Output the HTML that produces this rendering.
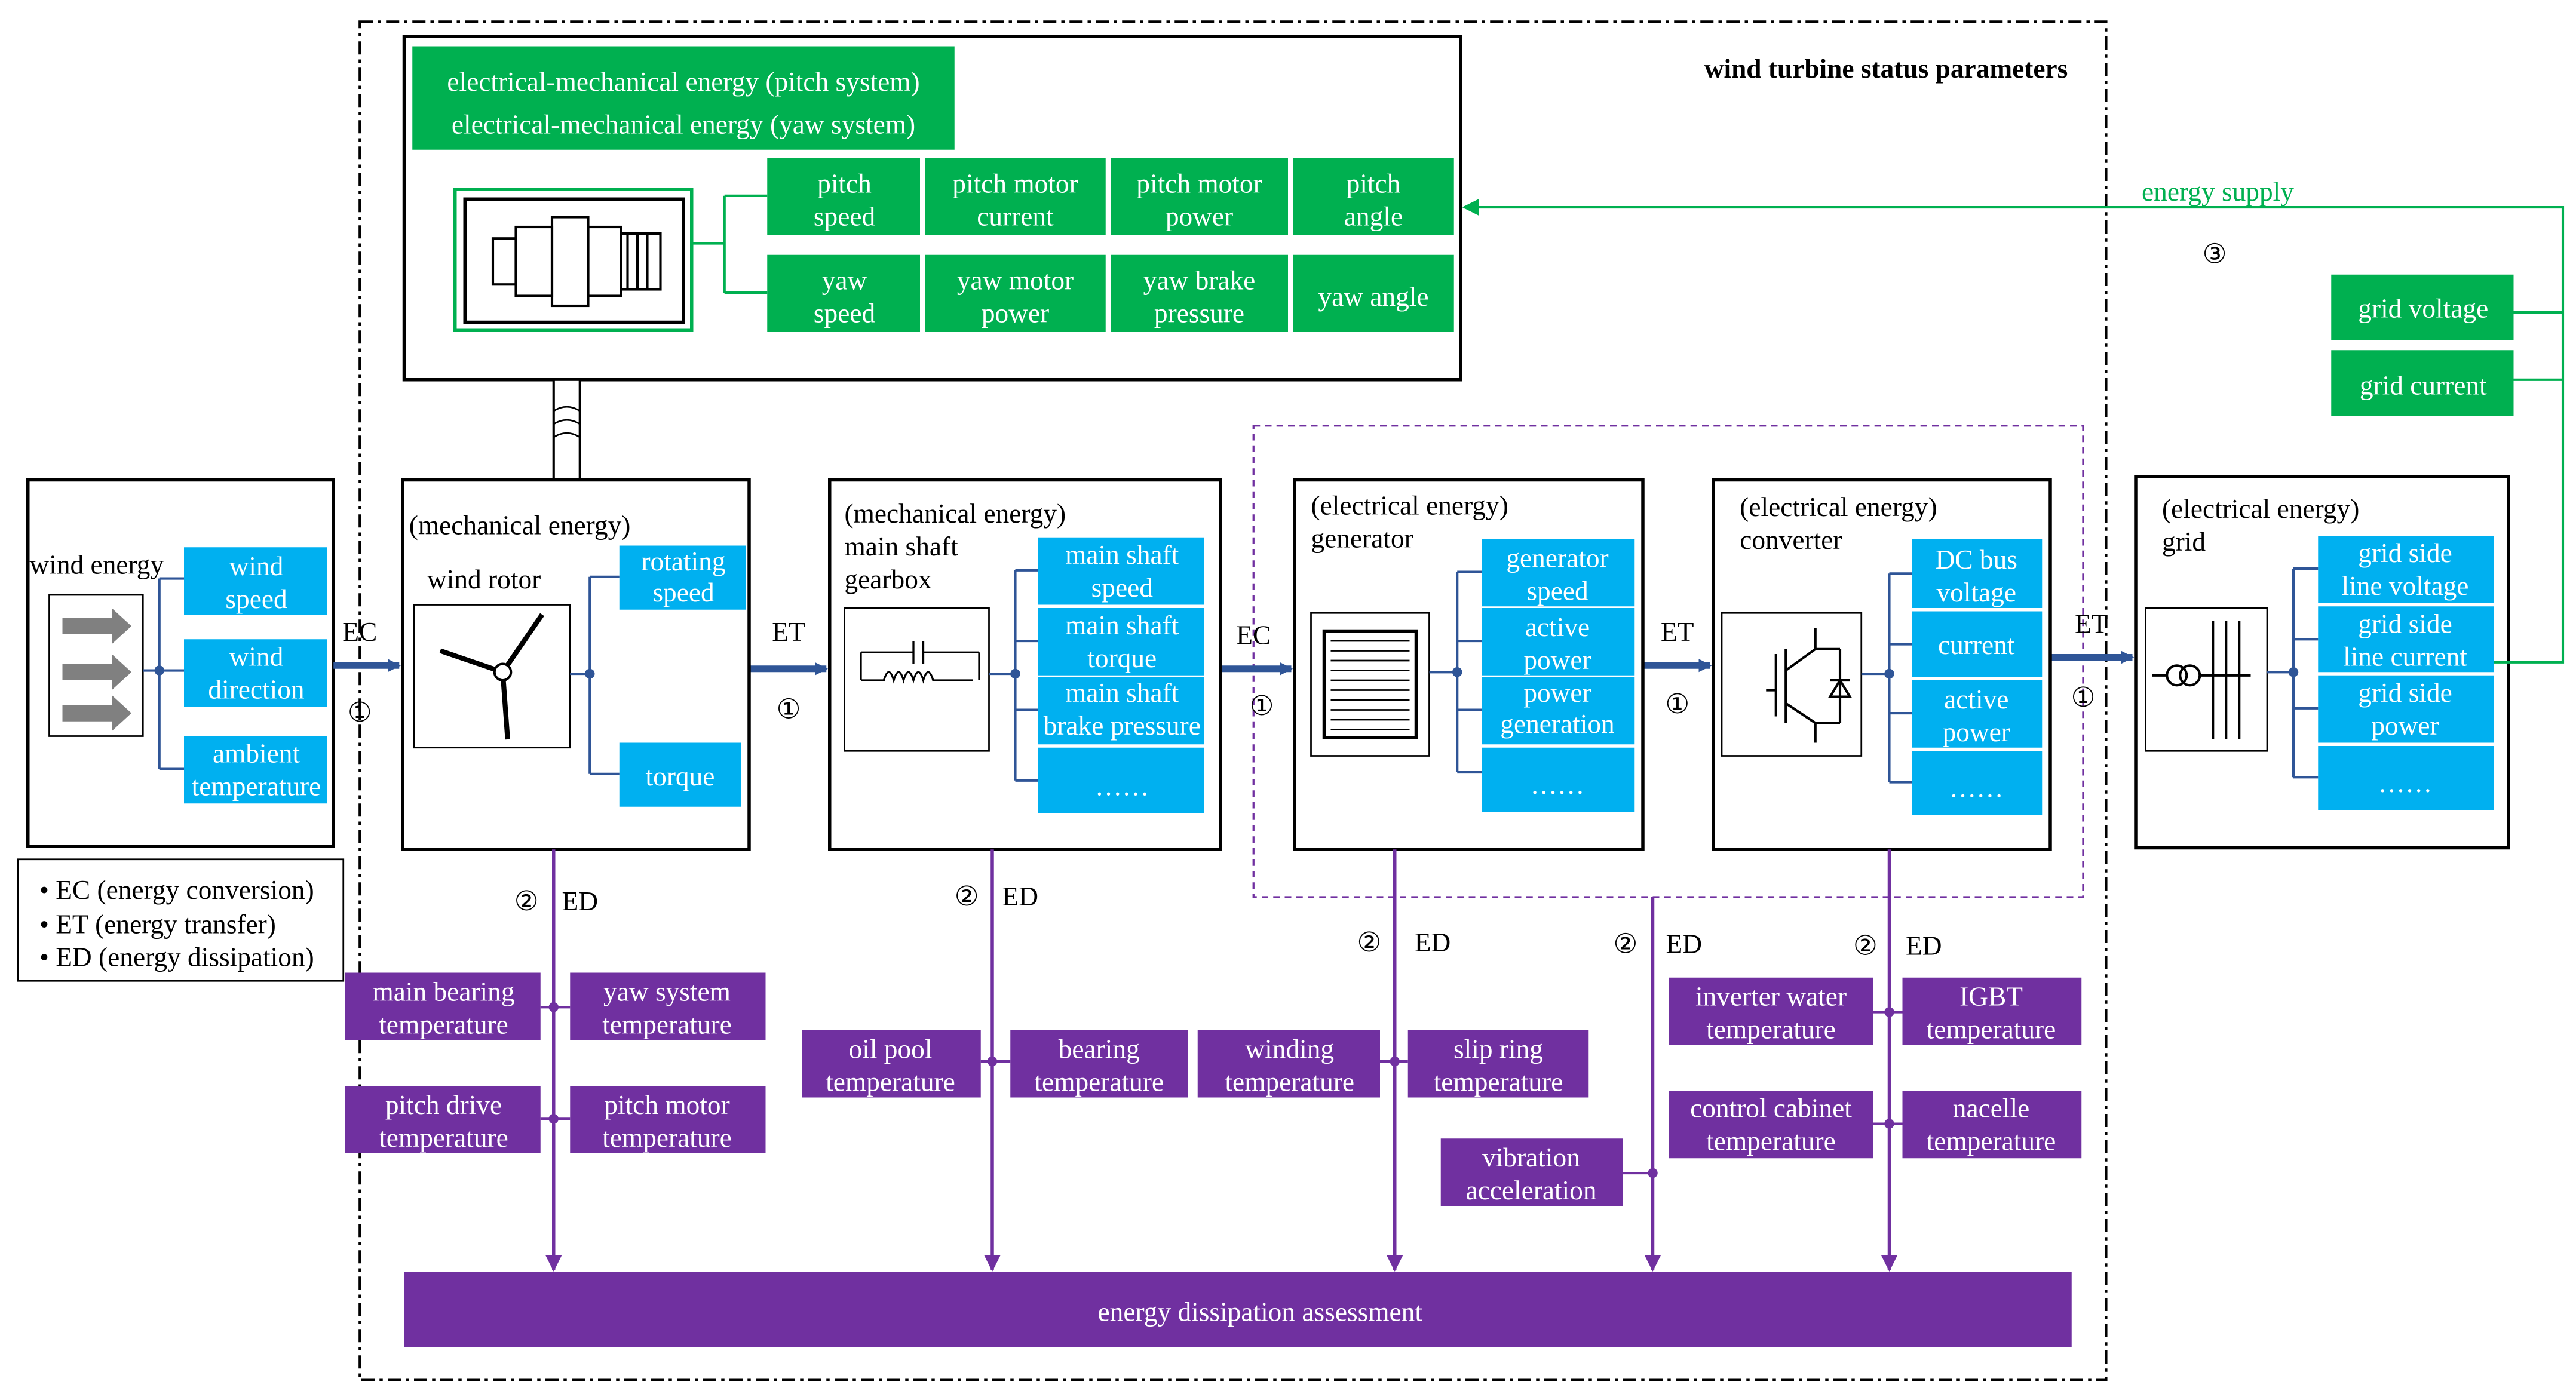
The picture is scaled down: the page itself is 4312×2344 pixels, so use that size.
<!DOCTYPE html>
<html><head><meta charset="utf-8"><style>
html,body{margin:0;padding:0;background:#fff;}
svg{display:block;}
text{font-family:"Liberation Serif",serif;font-size:16.5px;}
.w{fill:#fff;text-anchor:middle;}
.k{fill:#000;}
</style></head><body>
<svg width="4312" height="2344" viewBox="0 0 1568 852" xmlns="http://www.w3.org/2000/svg">
<defs>
<marker id="ab" markerWidth="8" markerHeight="8" refX="7" refY="4" orient="auto" markerUnits="userSpaceOnUse"><path d="M0,0 L8,4 L0,8z" fill="#2f5597"/></marker>
<marker id="ap" markerWidth="10" markerHeight="10" refX="9" refY="5" orient="auto" markerUnits="userSpaceOnUse"><path d="M0,0 L10,5 L0,10z" fill="#7030a0"/></marker>
<marker id="ag" markerWidth="10" markerHeight="10" refX="9" refY="5" orient="auto" markerUnits="userSpaceOnUse"><path d="M0,0 L10,5 L0,10z" fill="#00b050"/></marker>
</defs>
<rect width="1568" height="852" fill="#fff"/>
<rect x="219" y="13" width="1063" height="827" fill="none" stroke="#000" stroke-width="1.5" stroke-dasharray="8,3,2,3"/>
<text x="1148" y="47" class="k" style="font-weight:bold;text-anchor:middle">wind turbine status parameters</text>
<rect x="763" y="259" width="505" height="287" fill="none" stroke="#7030a0" stroke-width="1.2" stroke-dasharray="4,3"/>

<rect x="246" y="22" width="643" height="209" fill="none" stroke="#000" stroke-width="2"/>
<rect x="251" y="28" width="330" height="63" fill="#00b050"/>
<text x="416" y="55" class="w">electrical-mechanical energy (pitch system)</text>
<text x="416" y="81" class="w">electrical-mechanical energy (yaw system)</text>
<g fill="#00b050">
<rect x="467" y="96" width="93" height="47"/><rect x="563" y="96" width="110" height="47"/><rect x="676" y="96" width="108" height="47"/><rect x="787" y="96" width="98" height="47"/>
<rect x="467" y="155" width="93" height="47"/><rect x="563" y="155" width="110" height="47"/><rect x="676" y="155" width="108" height="47"/><rect x="787" y="155" width="98" height="47"/>
</g>
<text x="514" y="117" class="w">pitch</text><text x="514" y="137" class="w">speed</text>
<text x="618" y="117" class="w">pitch motor</text><text x="618" y="137" class="w">current</text>
<text x="730" y="117" class="w">pitch motor</text><text x="730" y="137" class="w">power</text>
<text x="836" y="117" class="w">pitch</text><text x="836" y="137" class="w">angle</text>
<text x="514" y="176" class="w">yaw</text><text x="514" y="196" class="w">speed</text>
<text x="618" y="176" class="w">yaw motor</text><text x="618" y="196" class="w">power</text>
<text x="730" y="176" class="w">yaw brake</text><text x="730" y="196" class="w">pressure</text>
<text x="836" y="186" class="w">yaw angle</text>
<rect x="277" y="115" width="144" height="86" fill="none" stroke="#00b050" stroke-width="2"/>
<rect x="283" y="121" width="133" height="75" fill="#fff" stroke="#000" stroke-width="2"/>
<g fill="none" stroke="#000" stroke-width="1.5">
<rect x="300" y="145" width="14" height="28"/><rect x="314" y="138" width="22" height="42"/><rect x="336" y="132" width="22" height="54"/><rect x="358" y="138" width="20" height="42"/><rect x="378" y="142" width="24" height="34"/>
<line x1="382" y1="142" x2="382" y2="176"/><line x1="388" y1="142" x2="388" y2="176"/><line x1="394" y1="142" x2="394" y2="176"/>
</g>
<g fill="none" stroke="#00b050" stroke-width="1.5">
<line x1="421" y1="148" x2="441" y2="148"/><line x1="441" y1="119" x2="441" y2="178"/>
<line x1="441" y1="119" x2="467" y2="119"/><line x1="441" y1="178" x2="467" y2="178"/>
</g>
<rect x="337" y="231" width="16" height="61" fill="#fff" stroke="#000" stroke-width="1.5"/>
<path d="M337,250 Q345,245 353,250 M337,258 Q345,253 353,258 M337,266 Q345,261 353,266" fill="none" stroke="#000"/>

<rect x="17" y="292" width="186" height="223" fill="none" stroke="#000" stroke-width="2"/>
<text x="18" y="349" class="k">wind energy</text>
<rect x="30" y="362" width="57" height="86" fill="#fff" stroke="#000"/>
<g fill="#808080"><path d="M38,376 h30 v-6 l12,11 -12,11 v-6 h-30z"/><path d="M38,404 h30 v-6 l12,11 -12,11 v-6 h-30z"/><path d="M38,429 h30 v-6 l12,11 -12,11 v-6 h-30z"/></g>
<g fill="#00b0f0"><rect x="112" y="333" width="87" height="41"/><rect x="112" y="389" width="87" height="41"/><rect x="112" y="448" width="87" height="41"/></g>
<text x="156" y="350" class="w">wind</text><text x="156" y="370" class="w">speed</text>
<text x="156" y="405" class="w">wind</text><text x="156" y="425" class="w">direction</text>
<text x="156" y="464" class="w">ambient</text><text x="156" y="484" class="w">temperature</text>
<g stroke="#2f5597" stroke-width="1.5" fill="none"><line x1="87" y1="408" x2="97" y2="408"/><line x1="97" y1="352" x2="97" y2="468"/><line x1="97" y1="352" x2="112" y2="352"/><line x1="97" y1="408" x2="112" y2="408"/><line x1="97" y1="468" x2="112" y2="468"/></g>
<circle cx="97" cy="408" r="3" fill="#2f5597"/>

<rect x="11" y="523" width="198" height="74" fill="#fff" stroke="#000"/>
<text x="24" y="547" class="k">• EC (energy conversion)</text>
<text x="24" y="568" class="k">• ET (energy transfer)</text>
<text x="24" y="588" class="k">• ED (energy dissipation)</text>

<g stroke="#2f5597" stroke-width="4" marker-end="url(#ab)">
<line x1="203" y1="405" x2="243" y2="405"/><line x1="456" y1="407" x2="503" y2="407"/><line x1="743" y1="407" x2="786" y2="407"/><line x1="1000" y1="405" x2="1041" y2="405"/><line x1="1248" y1="400" x2="1298" y2="400"/>
</g>
<text x="219" y="390" class="k" style="text-anchor:middle">EC</text><text x="219" y="439" class="k" style="text-anchor:middle">①</text>
<text x="480" y="390" class="k" style="text-anchor:middle">ET</text><text x="480" y="437" class="k" style="text-anchor:middle">①</text>
<text x="763" y="392" class="k" style="text-anchor:middle">EC</text><text x="768" y="435" class="k" style="text-anchor:middle">①</text>
<text x="1021" y="390" class="k" style="text-anchor:middle">ET</text><text x="1021" y="434" class="k" style="text-anchor:middle">①</text>
<text x="1273" y="385" class="k" style="text-anchor:middle">ET</text><text x="1268" y="430" class="k" style="text-anchor:middle">①</text>

<rect x="245" y="292" width="211" height="225" fill="none" stroke="#000" stroke-width="2"/>
<text x="249" y="325" class="k">(mechanical energy)</text>
<text x="260" y="358" class="k">wind rotor</text>
<rect x="252" y="368" width="95" height="87" fill="#fff" stroke="#000"/>
<g stroke="#000" stroke-width="3"><line x1="306" y1="409" x2="330" y2="374"/><line x1="306" y1="409" x2="268" y2="396"/><line x1="306" y1="409" x2="309" y2="450"/></g>
<circle cx="306" cy="409" r="5" fill="#fff" stroke="#000" stroke-width="1.5"/>
<g fill="#00b0f0"><rect x="377" y="332" width="77" height="39"/><rect x="377" y="452" width="74" height="39"/></g>
<text x="416" y="347" class="w">rotating</text><text x="416" y="366" class="w">speed</text>
<text x="414" y="478" class="w">torque</text>
<g stroke="#2f5597" stroke-width="1.5" fill="none"><line x1="347" y1="410" x2="359" y2="410"/><line x1="359" y1="351" x2="359" y2="471"/><line x1="359" y1="351" x2="377" y2="351"/><line x1="359" y1="471" x2="377" y2="471"/></g>
<circle cx="359" cy="410" r="3" fill="#2f5597"/>

<rect x="505" y="292" width="238" height="225" fill="none" stroke="#000" stroke-width="2"/>
<text x="514" y="318" class="k">(mechanical energy)</text>
<text x="514" y="338" class="k">main shaft</text>
<text x="514" y="358" class="k">gearbox</text>
<rect x="514" y="370" width="88" height="87" fill="#fff" stroke="#000"/>
<g stroke="#000" fill="none" stroke-width="1.2"><path d="M524,414 h14 q3,-10 6,0 q3,-10 6,0 q3,-10 6,0 q3,-10 6,0 q3,-10 6,0 h24"/><line x1="524" y1="414" x2="524" y2="397"/><line x1="596" y1="414" x2="596" y2="397"/><line x1="524" y1="397" x2="556" y2="397"/><line x1="562" y1="397" x2="596" y2="397"/><line x1="556" y1="390" x2="556" y2="404"/><line x1="562" y1="390" x2="562" y2="404"/></g>
<g fill="#00b0f0"><rect x="632" y="327" width="101" height="41"/><rect x="632" y="370" width="101" height="41"/><rect x="632" y="412" width="101" height="41"/><rect x="632" y="455" width="101" height="40"/></g>
<text x="683" y="343" class="w">main shaft</text><text x="683" y="363" class="w">speed</text>
<text x="683" y="386" class="w">main shaft</text><text x="683" y="406" class="w">torque</text>
<text x="683" y="427" class="w">main shaft</text><text x="683" y="447" class="w">brake pressure</text>
<text x="683" y="484" class="w">……</text>
<g stroke="#2f5597" stroke-width="1.5" fill="none"><line x1="602" y1="410" x2="618" y2="410"/><line x1="618" y1="347" x2="618" y2="475"/><line x1="618" y1="347" x2="632" y2="347"/><line x1="618" y1="390" x2="632" y2="390"/><line x1="618" y1="432" x2="632" y2="432"/><line x1="618" y1="475" x2="632" y2="475"/></g>
<circle cx="618" cy="410" r="3" fill="#2f5597"/>

<rect x="788" y="292" width="212" height="225" fill="none" stroke="#000" stroke-width="2"/>
<text x="798" y="313" class="k">(electrical energy)</text>
<text x="798" y="333" class="k">generator</text>
<rect x="798" y="373" width="72" height="87" fill="#fff" stroke="#000"/>
<rect x="806" y="384" width="56" height="65" fill="#fff" stroke="#000" stroke-width="2"/>
<g stroke="#000" stroke-width="1"><line x1="810" y1="390" x2="858" y2="390"/><line x1="810" y1="396" x2="858" y2="396"/><line x1="810" y1="402" x2="858" y2="402"/><line x1="810" y1="408" x2="858" y2="408"/><line x1="810" y1="414" x2="858" y2="414"/><line x1="810" y1="420" x2="858" y2="420"/><line x1="810" y1="426" x2="858" y2="426"/><line x1="810" y1="432" x2="858" y2="432"/><line x1="810" y1="438" x2="858" y2="438"/><line x1="810" y1="444" x2="858" y2="444"/></g>
<g fill="#00b0f0"><rect x="902" y="328" width="93" height="41"/><rect x="902" y="370" width="93" height="41"/><rect x="902" y="412" width="93" height="41"/><rect x="902" y="455" width="93" height="39"/></g>
<text x="948" y="345" class="w">generator</text><text x="948" y="365" class="w">speed</text>
<text x="948" y="387" class="w">active</text><text x="948" y="407" class="w">power</text>
<text x="948" y="427" class="w">power</text><text x="948" y="446" class="w">generation</text>
<text x="948" y="483" class="w">……</text>
<g stroke="#2f5597" stroke-width="1.5" fill="none"><line x1="870" y1="409" x2="887" y2="409"/><line x1="887" y1="348" x2="887" y2="470"/><line x1="887" y1="348" x2="902" y2="348"/><line x1="887" y1="390" x2="902" y2="390"/><line x1="887" y1="432" x2="902" y2="432"/><line x1="887" y1="470" x2="902" y2="470"/></g>
<circle cx="887" cy="409" r="3" fill="#2f5597"/>

<rect x="1043" y="292" width="205" height="225" fill="none" stroke="#000" stroke-width="2"/>
<text x="1059" y="314" class="k">(electrical energy)</text>
<text x="1059" y="334" class="k">converter</text>
<rect x="1048" y="373" width="85" height="87" fill="#fff" stroke="#000"/>
<g stroke="#000" stroke-width="1.5" fill="none"><line x1="1081" y1="398" x2="1081" y2="436"/><line x1="1075" y1="420" x2="1081" y2="420"/><line x1="1087" y1="395" x2="1087" y2="440"/><line x1="1087" y1="408" x2="1105" y2="395"/><line x1="1087" y1="428" x2="1105" y2="440"/><line x1="1105" y1="382" x2="1105" y2="395"/><line x1="1105" y1="440" x2="1105" y2="452"/><line x1="1105" y1="395" x2="1120" y2="395"/><line x1="1105" y1="440" x2="1120" y2="440"/><line x1="1120" y1="395" x2="1120" y2="440"/><path d="M1114,424 l6,-10 6,10z"/><line x1="1114" y1="414" x2="1126" y2="414"/></g>
<g fill="#00b0f0"><rect x="1164" y="328" width="79" height="42"/><rect x="1164" y="372" width="79" height="40"/><rect x="1164" y="414" width="79" height="41"/><rect x="1164" y="457" width="79" height="39"/></g>
<text x="1203" y="346" class="w">DC bus</text><text x="1203" y="366" class="w">voltage</text>
<text x="1203" y="398" class="w">current</text>
<text x="1203" y="431" class="w">active</text><text x="1203" y="451" class="w">power</text>
<text x="1203" y="485" class="w">……</text>
<g stroke="#2f5597" stroke-width="1.5" fill="none"><line x1="1133" y1="410" x2="1150" y2="410"/><line x1="1150" y1="349" x2="1150" y2="476"/><line x1="1150" y1="349" x2="1164" y2="349"/><line x1="1150" y1="392" x2="1164" y2="392"/><line x1="1150" y1="434" x2="1164" y2="434"/><line x1="1150" y1="476" x2="1164" y2="476"/></g>
<circle cx="1150" cy="410" r="3" fill="#2f5597"/>

<rect x="1300" y="290" width="227" height="226" fill="none" stroke="#000" stroke-width="2"/>
<text x="1316" y="315" class="k">(electrical energy)</text>
<text x="1316" y="335" class="k">grid</text>
<rect x="1306" y="370" width="74" height="87" fill="#fff" stroke="#000"/>
<g stroke="#000" stroke-width="1.5" fill="none"><circle cx="1325" cy="411" r="6"/><circle cx="1333" cy="411" r="6"/><line x1="1310" y1="411" x2="1319" y2="411"/><line x1="1339" y1="411" x2="1370" y2="411"/><line x1="1347" y1="378" x2="1347" y2="450"/><line x1="1355" y1="378" x2="1355" y2="450"/><line x1="1363" y1="378" x2="1363" y2="450"/></g>
<g fill="#00b0f0"><rect x="1411" y="326" width="107" height="41"/><rect x="1411" y="369" width="107" height="40"/><rect x="1411" y="411" width="107" height="41"/><rect x="1411" y="454" width="107" height="39"/></g>
<text x="1464" y="342" class="w">grid side</text><text x="1464" y="362" class="w">line voltage</text>
<text x="1464" y="385" class="w">grid side</text><text x="1464" y="405" class="w">line current</text>
<text x="1464" y="427" class="w">grid side</text><text x="1464" y="447" class="w">power</text>
<text x="1464" y="482" class="w">……</text>
<g stroke="#2f5597" stroke-width="1.5" fill="none"><line x1="1380" y1="409" x2="1396" y2="409"/><line x1="1396" y1="346" x2="1396" y2="473"/><line x1="1396" y1="346" x2="1411" y2="346"/><line x1="1396" y1="389" x2="1411" y2="389"/><line x1="1396" y1="431" x2="1411" y2="431"/><line x1="1396" y1="473" x2="1411" y2="473"/></g>
<circle cx="1396" cy="409" r="3" fill="#2f5597"/>

<rect x="1419" y="167" width="111" height="40" fill="#00b050"/><text x="1475" y="193" class="w">grid voltage</text>
<rect x="1419" y="213" width="111" height="40" fill="#00b050"/><text x="1475" y="240" class="w">grid current</text>
<g stroke="#00b050" stroke-width="1.5" fill="none"><polyline points="1518,403 1560,403 1560,126 891,126" marker-end="url(#ag)"/><line x1="1530" y1="190" x2="1560" y2="190"/><line x1="1530" y1="231" x2="1560" y2="231"/></g>
<text x="1350" y="122" style="fill:#00b050;text-anchor:middle">energy supply</text>
<text x="1348" y="160" class="k" style="text-anchor:middle">③</text>

<g stroke="#7030a0" stroke-width="2" marker-end="url(#ap)"><line x1="337" y1="517" x2="337" y2="773"/><line x1="604" y1="517" x2="604" y2="773"/><line x1="849" y1="517" x2="849" y2="773"/><line x1="1006" y1="546" x2="1006" y2="773"/><line x1="1150" y1="517" x2="1150" y2="773"/></g>
<text x="313" y="554" class="k">②</text><text x="342" y="554" class="k">ED</text>
<text x="581" y="551" class="k">②</text><text x="610" y="551" class="k">ED</text>
<text x="826" y="579" class="k">②</text><text x="861" y="579" class="k">ED</text>
<text x="982" y="580" class="k">②</text><text x="1014" y="580" class="k">ED</text>
<text x="1128" y="581" class="k">②</text><text x="1160" y="581" class="k">ED</text>

<g fill="#7030a0">
<rect x="210" y="592" width="119" height="41"/><rect x="347" y="592" width="119" height="41"/><rect x="210" y="661" width="119" height="41"/><rect x="347" y="661" width="119" height="41"/>
<rect x="488" y="627" width="109" height="41"/><rect x="615" y="627" width="108" height="41"/>
<rect x="729" y="627" width="111" height="41"/><rect x="857" y="627" width="110" height="41"/>
<rect x="877" y="693" width="111" height="41"/>
<rect x="1016" y="595" width="124" height="41"/><rect x="1158" y="595" width="109" height="41"/><rect x="1016" y="664" width="124" height="41"/><rect x="1158" y="664" width="109" height="41"/>
<rect x="246" y="774" width="1015" height="46"/>
</g>
<g stroke="#7030a0" stroke-width="1.5"><line x1="329" y1="613" x2="347" y2="613"/><line x1="329" y1="681" x2="347" y2="681"/><line x1="597" y1="646" x2="615" y2="646"/><line x1="840" y1="646" x2="857" y2="646"/><line x1="988" y1="714" x2="1006" y2="714"/><line x1="1140" y1="616" x2="1158" y2="616"/><line x1="1140" y1="684" x2="1158" y2="684"/></g>
<g fill="#7030a0"><circle cx="337" cy="613" r="3"/><circle cx="337" cy="681" r="3"/><circle cx="604" cy="646" r="3"/><circle cx="849" cy="646" r="3"/><circle cx="1006" cy="714" r="3"/><circle cx="1150" cy="616" r="3"/><circle cx="1150" cy="684" r="3"/></g>
<text x="270" y="609" class="w">main bearing</text><text x="270" y="629" class="w">temperature</text>
<text x="406" y="609" class="w">yaw system</text><text x="406" y="629" class="w">temperature</text>
<text x="270" y="678" class="w">pitch drive</text><text x="270" y="698" class="w">temperature</text>
<text x="406" y="678" class="w">pitch motor</text><text x="406" y="698" class="w">temperature</text>
<text x="542" y="644" class="w">oil pool</text><text x="542" y="664" class="w">temperature</text>
<text x="669" y="644" class="w">bearing</text><text x="669" y="664" class="w">temperature</text>
<text x="785" y="644" class="w">winding</text><text x="785" y="664" class="w">temperature</text>
<text x="912" y="644" class="w">slip ring</text><text x="912" y="664" class="w">temperature</text>
<text x="932" y="710" class="w">vibration</text><text x="932" y="730" class="w">acceleration</text>
<text x="1078" y="612" class="w">inverter water</text><text x="1078" y="632" class="w">temperature</text>
<text x="1212" y="612" class="w">IGBT</text><text x="1212" y="632" class="w">temperature</text>
<text x="1078" y="680" class="w">control cabinet</text><text x="1078" y="700" class="w">temperature</text>
<text x="1212" y="680" class="w">nacelle</text><text x="1212" y="700" class="w">temperature</text>
<text x="767" y="804" class="w">energy dissipation assessment</text>
</svg>
</body></html>
